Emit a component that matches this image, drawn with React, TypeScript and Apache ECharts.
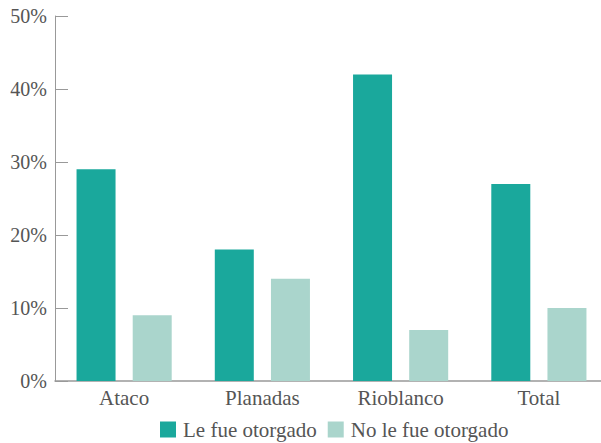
import { useEffect, useRef } from "react";
import * as echarts from "echarts";

const categories = ["Ataco", "Planadas", "Rioblanco", "Total"];
const otorgado = [29, 18, 42, 27];
const noOtorgado = [9, 14, 7, 10];
const seriesNames = ["Le fue otorgado", "No le fue otorgado"];

const FONT = "'Liberation Serif', 'Times New Roman', serif";

export default function App() {
  const ref = useRef<HTMLDivElement>(null);
  useEffect(() => {
    const chart = echarts.init(ref.current!, null, { renderer: "svg" });
    chart.setOption({
      animation: false,
      textStyle: { fontFamily: FONT },
      grid: { left: 55, width: 553, top: 16, bottom: 62, outerBoundsMode: "none" },
      legend: {
        left: 155,
        top: 414,
        itemWidth: 16,
        itemHeight: 16,
        itemGap: 11,
        icon: "rect",
        textStyle: { fontFamily: FONT, fontSize: 21, color: "#555", padding: [0, 0, 0, 2] },
        data: seriesNames,
      },
      xAxis: {
        type: "category",
        data: categories,
        axisLine: { lineStyle: { color: "#999", width: 1.5 } },
        axisTick: { inside: true, length: 9, lineStyle: { color: "#999" } },
        axisLabel: { fontFamily: FONT, fontSize: 21, color: "#555", margin: 6 },
      },
      yAxis: {
        type: "value",
        min: 0,
        max: 50,
        interval: 10,
        axisLine: { show: true, lineStyle: { color: "#999" } },
        axisTick: { show: true, inside: true, length: 13, lineStyle: { color: "#999" } },
        splitLine: { show: false },
        axisLabel: {
          fontFamily: FONT,
          fontSize: 20,
          color: "#555",
          margin: 8,
          formatter: "{value}%",
        },
      },
      series: [
        {
          name: seriesNames[0],
          type: "bar",
          data: otorgado,
          barWidth: 39,
          barGap: "44%",
          itemStyle: { color: "#1aa89c" },
        },
        {
          name: seriesNames[1],
          type: "bar",
          data: noOtorgado,
          barWidth: 39,
          itemStyle: { color: "#aad5cc" },
        },
      ],
    });
    return () => chart.dispose();
  }, []);
  return <div ref={ref} style={{ width: 601, height: 443, position: "absolute", left: 0, top: 0 }} />;
}
